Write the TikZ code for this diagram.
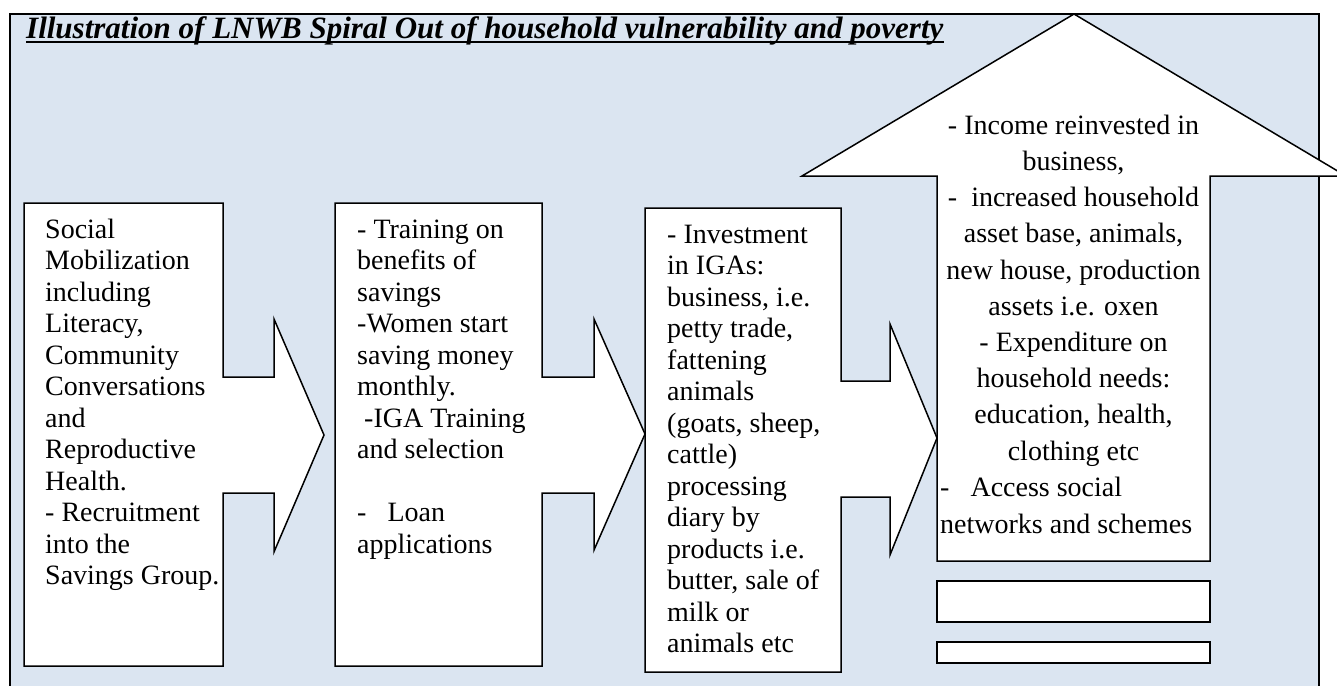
\documentclass[tikz,border=0pt]{standalone}
\usepackage{fontspec}
\setmainfont{Liberation Serif}
\usepackage{tikz}
\definecolor{panel}{RGB}{219,229,241}
\tikzstyle{blockarrow}=[draw=black,
                fill=white,
                line width=1.5pt,
                line join=miter]
\tikzstyle{txt}=[inner sep=0pt,
                anchor=base west,
                align=left,
                font=\fontsize{28}{31.5}\selectfont]
\tikzstyle{ctxt}=[inner sep=0pt,
                anchor=base,
                align=center,
                font=\fontsize{28}{36.2}\selectfont]

\begin{document}
\begin{tikzpicture}[x=1pt,y=-1pt]
\useasboundingbox (0,0) rectangle (1337,685);
\begin{scope}
\clip (0,0) rectangle (1337,685);

% background panel
\draw[fill=panel,line width=2.5pt] (10,14) rectangle (1319,720);

% title
\node[inner sep=0pt,anchor=base west,font=\fontsize{31}{34}\selectfont\bfseries\itshape] (title) at (26,38)
  {Illustration of LNWB Spiral Out of household vulnerability and poverty};
\draw[line width=2.2pt] ([yshift=-4pt]title.base west) -- ([yshift=-4pt]title.base east);

% first three boxes, each with a right arrow
\draw[blockarrow] (24,203) -- (223,203) -- (223,377) -- (274,377) -- (274,319) -- (324,435)
  -- (274,552) -- (274,493) -- (223,493) -- (223,666) -- (24,666) -- cycle;
\draw[blockarrow] (335,203) -- (542,203) -- (542,377) -- (594,377) -- (594,319) -- (645,434)
  -- (594,550) -- (594,493) -- (542,493) -- (542,666) -- (335,666) -- cycle;
\draw[blockarrow] (645,208) -- (841,208) -- (841,381) -- (890,381) -- (890,324) -- (937,438)
  -- (890,555) -- (890,497) -- (841,497) -- (841,672) -- (645,672) -- cycle;

% last box, up arrow
\draw[blockarrow] (937,561) -- (937,176) -- (802,176) -- (1074,14) -- (1346,176)
  -- (1210,176) -- (1210,561) -- cycle;

% two empty bars below
\draw[blockarrow] (937,581) rectangle (1210,622);
\draw[blockarrow] (937,642) rectangle (1210,663);
\end{scope}

% box texts (anchored on the baseline of the last line)
\node[txt] (social) at (45,584.5) {Social\\Mobilization\\including\\Literacy,\\Community\\Conversations\\and\\Reproductive\\Health.\\- Recruitment\\into the\\Savings Group.};
\node[txt] (savings) at (357,553) {- Training on\\benefits of\\savings\\-Women start\\saving money\\monthly.\\\ -IGA Training\\and selection\\[31.5pt]-\ \ \ Loan\\applications};
\node[txt] (invest) at (667,652.5) {- Investment\\in IGAs:\\business, i.e.\\petty trade,\\fattening\\animals\\(goats, sheep,\\cattle)\\processing\\diary by\\products i.e.\\butter, sale of\\milk or\\animals etc};
\node[ctxt] (income) at (1073.5,460) {- Income reinvested in\\business,\\-\ \ increased household\\asset base, animals,\\new house, production\\assets i.e. oxen\\- Expenditure on\\household needs:\\education, health,\\clothing etc};
\node[txt,font=\fontsize{28}{36.2}\selectfont] (access) at (940,533) {-\ \ \ Access social\\networks and schemes};

\end{tikzpicture}
\end{document}
